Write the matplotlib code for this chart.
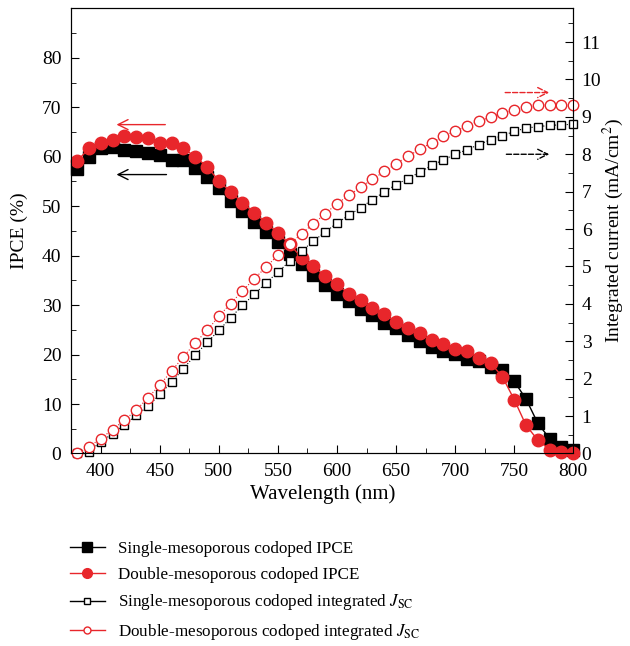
import matplotlib
matplotlib.use("Agg")
import matplotlib.pyplot as plt
import numpy as np

plt.rcParams['font.family'] = 'Liberation Serif'
plt.rcParams['mathtext.fontset'] = 'stix'

# wavelength (nm), 10 nm steps
wavelength = np.arange(380, 801, 10)

# IPCE (%) - left axis
ipce_single = [57.5, 60.0, 61.7, 61.9, 61.3, 61.2, 60.8, 60.4, 59.3, 59.3,
               57.7, 55.9, 53.6, 51.0, 49.0, 46.8, 44.8, 42.8, 40.4, 38.4,
               36.0, 34.0, 32.2, 30.9, 29.3, 28.0, 26.4, 25.3, 23.9, 22.8,
               21.6, 20.8, 20.1, 19.2, 18.7, 17.5, 16.8, 14.6, 11.0, 6.1,
               3.0, 1.3, 0.7]
ipce_double = [59.1, 61.7, 62.8, 63.3, 64.2, 64.0, 63.8, 62.7, 62.8, 61.7,
               60.0, 58.0, 55.1, 52.9, 50.7, 48.7, 46.6, 44.6, 42.3, 39.6,
               37.9, 35.8, 34.2, 32.3, 31.0, 29.5, 28.2, 26.6, 25.3, 24.3,
               22.9, 22.2, 21.2, 20.8, 19.4, 18.3, 15.5, 10.9, 5.7, 2.7,
               0.8, 0.3, 0.2]

# integrated current (mA/cm2) - right axis
jsc_single = [0.0, 0.05, 0.31, 0.53, 0.76, 1.02, 1.26, 1.58, 1.91, 2.27,
              2.63, 2.97, 3.29, 3.63, 3.96, 4.26, 4.56, 4.85, 5.14, 5.41,
              5.68, 5.92, 6.16, 6.37, 6.57, 6.79, 6.99, 7.19, 7.35, 7.52,
              7.70, 7.85, 8.00, 8.12, 8.26, 8.39, 8.50, 8.61, 8.70, 8.74,
              8.77, 8.79, 8.80]
jsc_double = [0.0, 0.18, 0.40, 0.64, 0.89, 1.16, 1.49, 1.83, 2.21, 2.58,
              2.96, 3.29, 3.67, 4.01, 4.35, 4.67, 4.99, 5.30, 5.59, 5.88,
              6.14, 6.41, 6.68, 6.90, 7.12, 7.33, 7.54, 7.75, 7.95, 8.13,
              8.31, 8.48, 8.62, 8.75, 8.89, 8.99, 9.10, 9.19, 9.26, 9.31,
              9.32, 9.33, 9.33]

red = '#e8262b'

fig = plt.figure(figsize=(6.3, 6.46), dpi=100)
ax = fig.add_axes([0.113, 0.298, 0.797, 0.689])
ax2 = ax.twinx()

ax.plot(wavelength, ipce_single, '-s', color='black', mfc='black', ms=8.5, lw=1, clip_on=False, zorder=3)
ax.plot(wavelength, ipce_double, '-o', color=red, mfc=red, mec=red, ms=9, lw=1, clip_on=False, zorder=4)
ax2.plot(wavelength, jsc_single, ':s', color='black', mfc='white', ms=6, lw=0.8, mew=1, clip_on=False)
ax2.plot(wavelength, jsc_double, ':o', color=red, mfc='white', mec=red, ms=7.5, lw=0.8, mew=1, clip_on=False)

ax.set_xlim(380, 800)
ax.set_ylim(0, 90)
ax2.set_ylim(0, 11.9)
ax.set_xticks(np.arange(400, 801, 50))
ax.set_xticks(np.arange(375, 801, 25), minor=True)
ax.set_yticks(np.arange(0, 81, 10))
ax.set_yticks(np.arange(0, 90, 5), minor=True)
ax2.set_yticks(np.arange(0, 12, 1))
ax2.set_yticks(np.arange(0, 12, 0.5), minor=True)

ax.tick_params(which='both', direction='in', labelsize=14, right=False, top=False)
ax.tick_params(which='major', length=6)
ax.tick_params(which='minor', length=3.5)
ax.tick_params(axis='x', pad=7)
ax.tick_params(axis='y', pad=7)
ax2.tick_params(which='both', direction='in', labelsize=14)
ax2.tick_params(which='major', length=6, pad=6)
ax2.tick_params(which='minor', length=3.5)

ax.set_xlabel('Wavelength (nm)', fontsize=15, labelpad=3)
ax.set_ylabel('IPCE (%)', fontsize=14, labelpad=10)
ax2.set_ylabel('Integrated current (mA/cm$^2$)', fontsize=14, labelpad=0)

# arrows pointing to the relevant axis
ax.annotate('', xy=(411, 66.5), xytext=(457, 66.5),
            arrowprops=dict(arrowstyle='->', color=red, lw=1, mutation_scale=18))
ax.annotate('', xy=(411, 56.4), xytext=(458, 56.4),
            arrowprops=dict(arrowstyle='->', color='black', lw=1, mutation_scale=18))
ax2.annotate('', xy=(782, 9.65), xytext=(740, 9.65),
             arrowprops=dict(arrowstyle='->', color=red, lw=1, ls='--', mutation_scale=18))
ax2.annotate('', xy=(782, 8.0), xytext=(741, 8.0),
             arrowprops=dict(arrowstyle='->', color='black', lw=1, ls='--', mutation_scale=18))

labels = ['Single-mesoporous codoped IPCE',
          'Double-mesoporous codoped IPCE',
          'Single-mesoporous codoped integrated $J_{\\mathrm{SC}}$',
          'Double-mesoporous codoped integrated $J_{\\mathrm{SC}}$']
h1 = plt.Line2D([], [], color='black', marker='s', mfc='black', ms=6.5, lw=1)
h2 = plt.Line2D([], [], color=red, marker='o', mfc=red, mec=red, ms=7, lw=1)
h3 = plt.Line2D([], [], color='black', marker='s', mfc='white', ms=5, lw=1)
h4 = plt.Line2D([], [], color=red, marker='o', mfc='white', mec=red, ms=5, lw=1)
fig.legend([h1, h2, h3, h4], labels, loc='upper left', bbox_to_anchor=(0.111, 0.162),
           frameon=False, fontsize=12.3, handlelength=2.05, handletextpad=0.75,
           labelspacing=0.56, borderpad=0, borderaxespad=0)

fig.savefig('out.png', dpi=100)
